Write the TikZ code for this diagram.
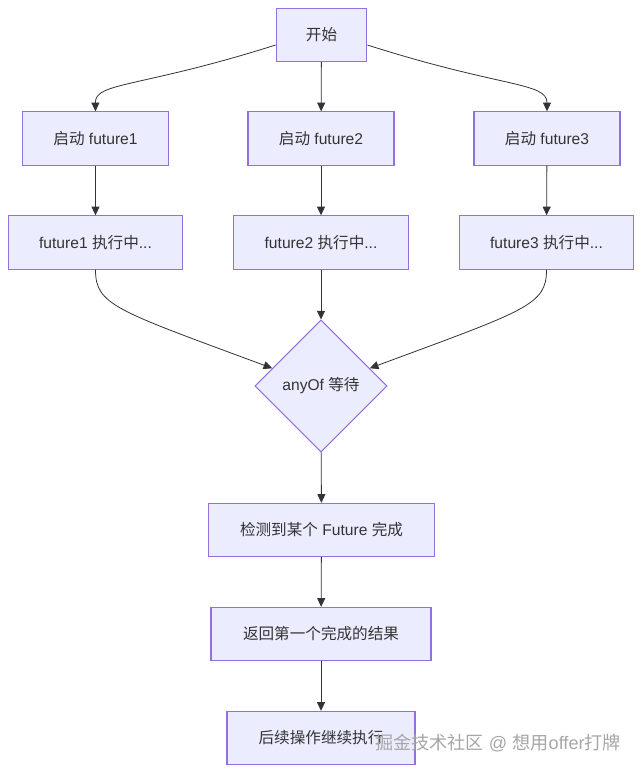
\documentclass[tikz,border=0pt]{standalone}
\usepackage{fontspec}
\setmainfont{Liberation Sans}
\newfontfamily\cjk{Noto Sans CJK SC}
\usetikzlibrary{shapes.geometric, arrows.meta}
\definecolor{boxfill}{HTML}{ECECFF}
\definecolor{boxline}{HTML}{9370DB}
\definecolor{ink}{HTML}{333333}

\begin{document}
\begin{tikzpicture}[
    x=0.75pt, y=-0.75pt,
    process/.style={rectangle, draw=boxline, fill=boxfill, line width=0.8pt, text=ink, minimum height=40pt, font=\fontsize{11.7pt}{14pt}\selectfont},
    decision/.style={diamond, draw=boxline, fill=boxfill, line width=0.8pt, text=ink, aspect=1, minimum width=99pt, minimum height=99pt, inner sep=0pt, font=\fontsize{11.7pt}{14pt}\selectfont},
    flow/.style={draw=ink, line width=0.6pt, -{Triangle[length=6.5pt, width=6pt]}}
]
    \useasboundingbox (0,0) rectangle (643,773);

    % Start
    \node[process, minimum width=68pt] (start) at (321.5,35) {{\cjk 开始}};

    % Launch futures
    \node[process, minimum width=109.5pt] (launch1) at (95.5,138.5) {{\cjk 启动} future1};
    \node[process, minimum width=109.5pt] (launch2) at (321,138.5) {{\cjk 启动} future2};
    \node[process, minimum width=109.5pt] (launch3) at (547,138.5) {{\cjk 启动} future3};

    % Running futures
    \node[process, minimum width=131pt] (run1) at (95.5,242.5) {future1 {\cjk 执行中}...};
    \node[process, minimum width=131pt] (run2) at (321,242.5) {future2 {\cjk 执行中}...};
    \node[process, minimum width=131pt] (run3) at (546.5,242.5) {future3 {\cjk 执行中}...};

    % anyOf wait
    \node[decision] (anyof) at (321,386) {anyOf {\cjk 等待}};

    % Result steps
    \node[process, minimum width=170pt] (detect) at (321.5,530) {{\cjk 检测到某个} Future {\cjk 完成}};
    \node[process, minimum width=165pt] (result) at (321,634) {{\cjk 返回第一个完成的结果}};
    \node[process, minimum width=141pt] (next) at (321,738) {{\cjk 后续操作继续执行}};

    % Watermark
    \node[text=gray!70, font=\fontsize{13.6pt}{16pt}\selectfont] (mark) at (498,743) {{\cjk 掘金技术社区} @ {\cjk 想用}offer{\cjk 打牌}};

    % Connections
    \draw[flow] ([yshift=-7.5pt]start.west) .. controls (140,88) and (95,82) .. (launch1.north);
    \draw[flow] (start) -- (launch2);
    \draw[flow] ([yshift=-7.5pt]start.east) .. controls (502,88) and (547,82) .. (launch3.north);
    \draw[flow] (launch1) -- (run1);
    \draw[flow] (launch2) -- (run2);
    \draw[flow] (launch3) -- (run3);
    \draw[flow] (run1.south) .. controls (95.5,305) and (115,310) .. (anyof.160);
    \draw[flow] (run2) -- (anyof);
    \draw[flow] (run3.south) .. controls (546.5,305) and (527,310) .. (anyof.20);
    \draw[flow] (anyof) -- (detect);
    \draw[flow] (detect) -- (result);
    \draw[flow] (result) -- (next);
\end{tikzpicture}
\end{document}
